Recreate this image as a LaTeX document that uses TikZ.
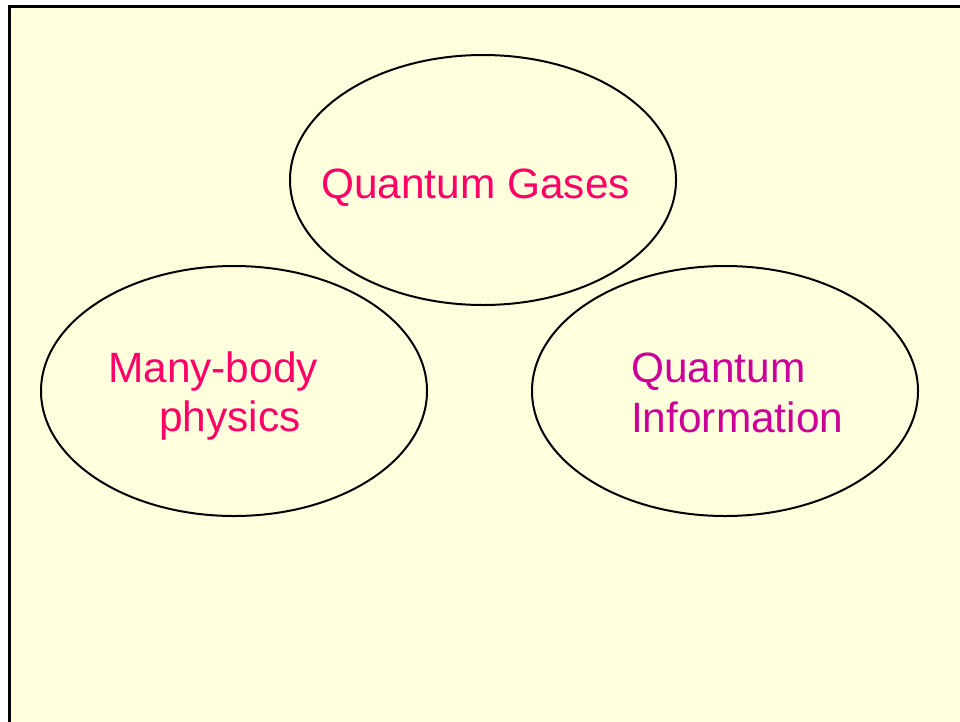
\documentclass[tikz,border=0pt]{standalone}
\usepackage{fontspec}
\setmainfont{Liberation Sans}
\usetikzlibrary{shapes.geometric}
\definecolor{bgyellow}{HTML}{FFFFDD}
\definecolor{pinktext}{HTML}{FF0066}
\definecolor{magtext}{HTML}{CC0099}
\begin{document}
\begin{tikzpicture}[x=1pt,y=-1pt,
  bubble/.style={draw=black,line width=2pt,ellipse,minimum width=386pt,minimum height=250pt,inner sep=0pt},
  lbl/.style={anchor=base west,inner sep=0pt,font=\fontsize{42.4}{50}\selectfont}]
\useasboundingbox (0,0) rectangle (960,721);
\fill[white] (0,0) rectangle (960,721);
\draw[fill=bgyellow,line width=3pt] (9,6) rectangle (975,735);
\node[bubble] (gases) at (483,180) {};
\node[bubble] (many) at (234,391) {};
\node[bubble] (info) at (725,391) {};
\node[lbl,text=pinktext] (t1) at (321,198) {Quantum Gases};
\node[lbl,text=pinktext] (t2) at (108,382) {Many-body};
\node[lbl,text=pinktext] (t3) at (159,431) {physics};
\node[lbl,text=magtext] (t4) at (631,382) {Quantum};
\node[lbl,text=magtext] (t5) at (631,432) {Information};
\end{tikzpicture}
\end{document}
